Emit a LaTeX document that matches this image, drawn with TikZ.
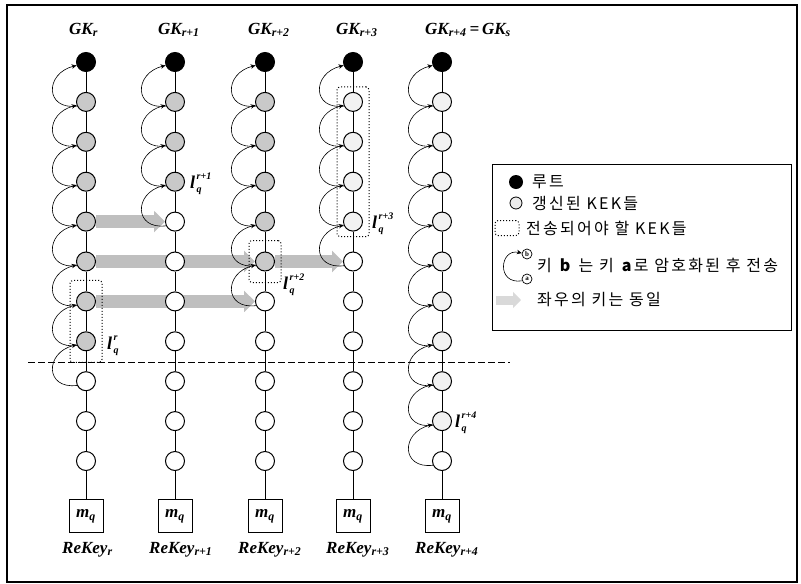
\documentclass[tikz,border=0pt]{standalone}
\usepackage{fontspec}
\setmainfont{Liberation Serif}
\newfontfamily\kr[LetterSpace=14]{Noto Sans CJK KR}
\usetikzlibrary{arrows.meta,fit}
\pgfdeclarelayer{background}
\pgfsetlayers{background,main}
\newcommand\lqlab[1]{l\kern1.5pt\rlap{\raisebox{9pt}{\fontsize{10}{10}\selectfont #1}}\raisebox{-4.5pt}{\fontsize{10}{10}\selectfont q}}
\begin{document}
\begin{tikzpicture}[x=1pt,y=1pt,
  key/.style={circle,draw,line width=1pt,minimum size=19pt,inner sep=0pt},
  rootkey/.style={key,fill=black},
  kg/.style={key,fill=gray!42},
  kl/.style={key,fill=gray!10},
  kw/.style={key,fill=white},
  vline/.style={line width=0.8pt},
  keyarc/.style={line width=0.6pt,-{Stealth[length=5pt,width=4.5pt]}},
  same/.style={line width=13pt,draw=gray!50,-{Triangle[length=11pt,width=21pt]}},
  sendbox/.style={draw,dotted,line width=1pt,rounded corners=3pt,inner sep=0pt},
  mbox/.style={draw,line width=0.9pt,minimum width=34pt,minimum height=33pt,inner sep=0pt,
    font=\fontsize{17}{17}\selectfont\bfseries\itshape},
  title/.style={anchor=base west,inner sep=0pt,font=\fontsize{17}{17}\selectfont\bfseries\itshape},
  lbl/.style={anchor=base west,inner sep=0pt,font=\fontsize{18}{18}\selectfont\bfseries\itshape},
  legtext/.style={anchor=west,inner sep=0pt,font=\kr\fontsize{16}{16}\selectfont},
]
\useasboundingbox (0,0) rectangle (801,-584);
\draw[line width=1.3pt] (7,-5) rectangle (797,-582);

% key nodes
\foreach \i/\x in {1/86,2/175,3/265,4/353,5/442}
  \node[rootkey] (c\i-0) at (\x,-62) {};
\foreach \k in {1,...,7}  \node[kg] (c1-\k) at (86,{-62-39.9*\k}) {};
\foreach \k in {8,9,10}   \node[kw] (c1-\k) at (86,{-62-39.9*\k}) {};
\foreach \k in {1,2,3}    \node[kg] (c2-\k) at (175,{-62-39.9*\k}) {};
\foreach \k in {4,...,10} \node[kw] (c2-\k) at (175,{-62-39.9*\k}) {};
\foreach \k in {1,...,5}  \node[kg] (c3-\k) at (265,{-62-39.9*\k}) {};
\foreach \k in {6,...,10} \node[kw] (c3-\k) at (265,{-62-39.9*\k}) {};
\foreach \k in {1,...,4}  \node[kl] (c4-\k) at (353,{-62-39.9*\k}) {};
\foreach \k in {5,...,10} \node[kw] (c4-\k) at (353,{-62-39.9*\k}) {};
\foreach \k in {1,...,9}  \node[kl] (c5-\k) at (442,{-62-39.9*\k}) {};
\node[kw] (c5-10) at (442,{-62-39.9*10}) {};

% member boxes
\foreach \i/\x in {1/86,2/175,3/265,4/353,5/442}
  \node[mbox] (b\i) at (\x,-516) {m\textsubscript{q}};

% vertical lines
\foreach \i in {1,...,5}{
  \foreach \k [count=\j from 0] in {1,...,10}
    \draw[vline] (c\i-\j) -- (c\i-\k);
  \draw[vline] (c\i-10) -- (b\i);
}

% encryption arcs
\foreach \i/\n in {1/8,2/4,3/6,4/5,5/10}
  \foreach \k [count=\j from 0] in {1,...,\n}
    \draw[keyarc] (c\i-\k.205) .. controls +(-32,-4) and +(-32,-8) .. (c\i-\j.200);

% same-key arrows
\begin{pgfonlayer}{background}
\draw[same] (c1-4.east) -- (c2-4.west);
\draw[same] (c1-5.east) -- (c3-5.west);
\draw[same] (c3-5.east) -- (c4-5.west);
\draw[same] (c1-6.east) -- (c3-6.west);
\end{pgfonlayer}

% boxes of KEKs to send
\node[sendbox,fit=(c1-6)(c1-7),inner xsep=6pt,inner ysep=11pt] (s1) {};
\node[sendbox,fit=(c3-5),inner xsep=6pt,inner ysep=11pt] (s3) {};
\node[sendbox,fit=(c4-1)(c4-4),inner xsep=6pt,inner ysep=5pt] (s4) {};

% dashed line
\coordinate (dl) at (28,-362);
\coordinate (dr) at (510,-362);
\draw[line width=0.8pt,dash pattern=on 7pt off 3pt] (dl) -- (dr);

% titles
\node[title] (g1) at (69,-34) {GK\textsubscript{r}};
\node[title] (g2) at (158,-34) {GK\textsubscript{r+1}};
\node[title] (g3) at (248,-34) {GK\textsubscript{r+2}};
\node[title] (g4) at (336,-34) {GK\textsubscript{r+3}};
\node[title] (g5) at (425,-34) {GK\textsubscript{r+4}\,=\,GK\textsubscript{s}};

\node[title] (r1) at (62,-553) {ReKey\textsubscript{r}};
\node[title] (r2) at (149,-553) {ReKey\textsubscript{r+1}};
\node[title] (r3) at (238,-553) {ReKey\textsubscript{r+2}};
\node[title] (r4) at (326,-553) {ReKey\textsubscript{r+3}};
\node[title] (r5) at (415,-553) {ReKey\textsubscript{r+4}};

% l labels
\node[lbl] (l1) at (107,-349) {\lqlab{r}};
\node[lbl] (l2) at (190,-188) {\lqlab{r+1}};
\node[lbl] (l3) at (283,-289) {\lqlab{r+2}};
\node[lbl] (l4) at (372,-228) {\lqlab{r+3}};
\node[lbl] (l5) at (455,-427) {\lqlab{r+4}};

% legend
\node[draw,line width=0.9pt,minimum width=299pt,minimum height=166pt,anchor=north west,inner sep=0pt] (leg) at (492,-164) {};
\node[circle,fill=black,minimum size=14pt,inner sep=0pt] (lg1) at (516,-182) {};
\node[circle,draw,fill=gray!15,line width=0.8pt,minimum size=12pt,inner sep=0pt] (lg2) at (516,-203) {};
\node[sendbox,minimum width=24pt,minimum height=15pt] (lg3) at (507,-228) {};
\node[circle,draw,fill=white,line width=0.7pt,minimum size=10pt,inner sep=0pt,font=\fontsize{7}{7}\selectfont\bfseries] (lgb) at (527,-254) {b};
\node[circle,draw,fill=white,line width=0.7pt,minimum size=10pt,inner sep=0pt,font=\fontsize{7}{7}\selectfont\bfseries] (lga) at (527,-279) {a};
\draw[keyarc] (lga.200) .. controls +(-26,-4) and +(-22,5) .. (lgb.170);
\coordinate (lsa) at (496,-300);
\coordinate (lse) at (521,-300);
\draw[line width=9pt,draw=gray!30,-{Triangle[length=8pt,width=16pt]}] (lsa) -- (lse);

\node[legtext] (t1) at (532,-182) {루트};
\node[legtext] (t2) at (532,-203) {갱신된 KEK들};
\node[legtext] (t3) at (526,-228) {전송되어야 할 KEK들};
\node[legtext] (t4) at (537,-265) {키 \textbf{b} 는 키 \textbf{a}로 암호화된 후 전송};
\node[legtext] (t5) at (537,-300) {좌우의 키는 동일};
\end{tikzpicture}
\end{document}
